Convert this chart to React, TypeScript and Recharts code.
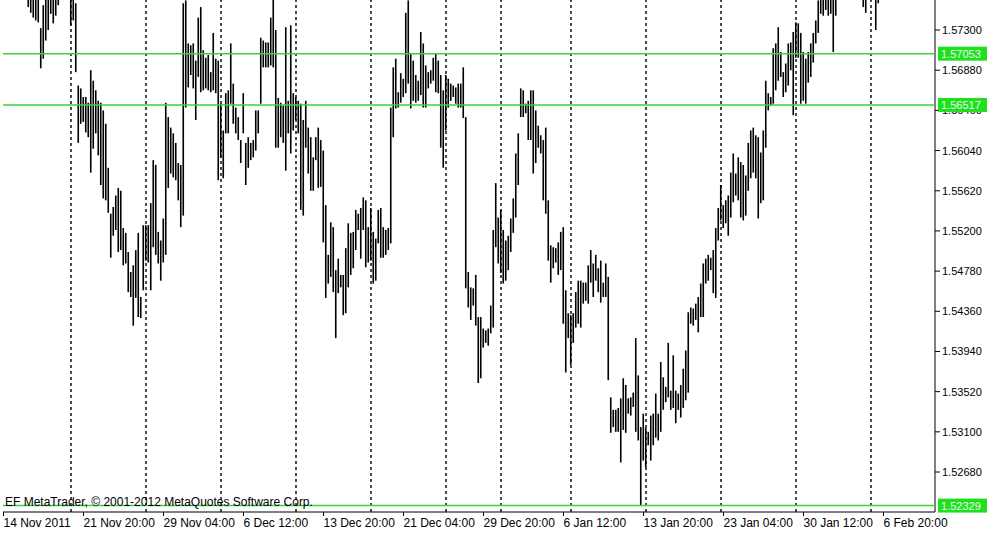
import { Bar, ComposedChart, ReferenceLine, XAxis, YAxis } from "recharts";

// GBPUSD H4 bars, 14 Nov 2011 12:00 onwards (bar index = position on the time axis)
const highs = [
  1.5802, 1.5798, 1.579, 1.5795, 1.5788, 1.5785, 1.5792, 1.5786, 1.5789, 1.5784,
  1.5782, 1.5777, 1.5771, 1.5769, 1.5766, 1.5732, 1.5756, 1.5766, 1.5771, 1.5774,
  1.5769, 1.5777, 1.5782, 1.5787, 1.5792, 1.5792, 1.5787, 1.5771, 1.5766, 1.5758,
  1.5672, 1.5669, 1.566, 1.566, 1.5654, 1.5688, 1.5677, 1.5667, 1.5656, 1.5654,
  1.5646, 1.5632, 1.5586, 1.5538, 1.5545, 1.5557, 1.5565, 1.5562, 1.5523, 1.5518,
  1.5498, 1.5477, 1.5484, 1.55, 1.5518, 1.5451, 1.5526, 1.5526, 1.5526, 1.5549,
  1.5594, 1.5589, 1.5519, 1.551, 1.5533, 1.5654, 1.5639, 1.5628, 1.5622, 1.5612,
  1.5591, 1.5589, 1.5758, 1.5761, 1.5716, 1.5714, 1.5716, 1.5698, 1.5743, 1.5754,
  1.5709, 1.5701, 1.5704, 1.5686, 1.5727, 1.57, 1.5698, 1.5653, 1.5625, 1.5664,
  1.5667, 1.5716, 1.5674, 1.5649, 1.5639, 1.5615, 1.5664, 1.5612, 1.5618, 1.5612,
  1.5615, 1.5646, 1.5646, 1.5722, 1.5719, 1.5717, 1.5717, 1.5743, 1.5764, 1.573,
  1.5659, 1.5654, 1.5651, 1.5733, 1.5656, 1.5735, 1.5664, 1.566, 1.5656, 1.5653,
  1.5636, 1.5656, 1.5628, 1.5618, 1.5597, 1.5618, 1.5628, 1.5615, 1.5604, 1.5547,
  1.5495, 1.5529, 1.5524, 1.5479, 1.5491, 1.5474, 1.5474, 1.5502, 1.5528, 1.5518,
  1.5519, 1.5542, 1.5538, 1.5544, 1.5555, 1.5552, 1.5524, 1.5544, 1.5519, 1.5512,
  1.5542, 1.5544, 1.5524, 1.5521, 1.5523, 1.5649, 1.5691, 1.57, 1.5665, 1.5685,
  1.5679, 1.5748, 1.5761, 1.5706, 1.5698, 1.5683, 1.5677, 1.5728, 1.5716, 1.5693,
  1.5686, 1.5688, 1.5701, 1.5706, 1.5698, 1.5683, 1.5667, 1.5683, 1.5679, 1.5674,
  1.5672, 1.567, 1.5674, 1.5674, 1.5691, 1.5639, 1.5477, 1.5461, 1.546, 1.5474,
  1.543, 1.543, 1.5418, 1.5416, 1.5418, 1.5442, 1.5521, 1.557, 1.5534, 1.5542,
  1.5521, 1.551, 1.5515, 1.5533, 1.5554, 1.5601, 1.5622, 1.5669, 1.5667, 1.5653,
  1.5656, 1.5667, 1.5667, 1.5646, 1.563, 1.562, 1.5615, 1.5628, 1.5552, 1.5505,
  1.5503, 1.5502, 1.5508, 1.5519, 1.5524, 1.5458, 1.5434, 1.5432, 1.5434, 1.5456,
  1.5468, 1.5468, 1.5466, 1.5466, 1.5484, 1.55, 1.5486, 1.5495, 1.5481, 1.5489,
  1.5466, 1.5486, 1.5472, 1.5346, 1.5333, 1.5333, 1.5335, 1.5345, 1.5366, 1.5359,
  1.5345, 1.5346, 1.5351, 1.5408, 1.5369, 1.5315, 1.5329, 1.5314, 1.531, 1.5327,
  1.5329, 1.535, 1.5329, 1.5383, 1.5367, 1.5357, 1.5403, 1.5353, 1.539, 1.5353,
  1.535, 1.5359, 1.5376, 1.5395, 1.5435, 1.544, 1.5439, 1.5444, 1.5451, 1.5465,
  1.5486, 1.5491, 1.5495, 1.5492, 1.55, 1.5523, 1.5544, 1.5568, 1.5547, 1.5552,
  1.5557, 1.5581, 1.5601, 1.558, 1.5597, 1.5592, 1.5589, 1.5578, 1.5612, 1.5625,
  1.5628, 1.562, 1.5618, 1.5602, 1.5625, 1.5677, 1.5664, 1.566, 1.5711, 1.5716,
  1.5733, 1.5707, 1.5686, 1.5695, 1.5716, 1.5717, 1.5728, 1.5738, 1.5737, 1.5727,
  1.5707, 1.57, 1.5707, 1.5716, 1.5727, 1.574, 1.5761, 1.5766, 1.5769, 1.5771,
  1.5766, 1.5769, 1.5764, 1.5771, 1.5787, 1.5792, 1.5798, 1.5805, 1.5801, 1.5796,
  1.5803, 1.5799, 1.5794, 1.579, 1.5777, 1.5771, 1.5782, 1.5787, 1.5782, 1.5771,
  1.5766,
];

const lows = [
  1.5775, 1.577, 1.5768, 1.5772, 1.5766, 1.5764, 1.577, 1.5767, 1.5765, 1.5763,
  1.5754, 1.5748, 1.5743, 1.574, 1.5738, 1.569, 1.57, 1.5719, 1.573, 1.5747,
  1.5737, 1.5745, 1.5756, 1.5764, 1.5766, 1.5769, 1.5763, 1.5735, 1.574, 1.5686,
  1.5612, 1.5632, 1.5634, 1.5623, 1.5618, 1.5581, 1.5606, 1.5622, 1.5599, 1.5568,
  1.5554, 1.5552, 1.5539, 1.5492, 1.5515, 1.5521, 1.5498, 1.55, 1.5484, 1.5486,
  1.5456, 1.5451, 1.5421, 1.545, 1.543, 1.5429, 1.5458, 1.5489, 1.5487, 1.5458,
  1.5503, 1.5495, 1.5486, 1.5468, 1.5487, 1.5495, 1.5565, 1.558, 1.5576, 1.5573,
  1.5552, 1.5524, 1.5536, 1.5649, 1.567, 1.5683, 1.5669, 1.5636, 1.5681, 1.5665,
  1.5667, 1.5669, 1.5667, 1.5665, 1.5667, 1.5664, 1.5573, 1.5597, 1.5575, 1.5622,
  1.5622, 1.5653, 1.5632, 1.5622, 1.5615, 1.5591, 1.5622, 1.5568, 1.5586, 1.5594,
  1.5597, 1.5604, 1.5622, 1.5653, 1.5691, 1.5691, 1.5691, 1.5693, 1.5691, 1.5607,
  1.5607, 1.5618, 1.5612, 1.5583, 1.5622, 1.5601, 1.5625, 1.5636, 1.5622, 1.5542,
  1.5536, 1.5607, 1.558, 1.5562, 1.5562, 1.5594, 1.5565, 1.5566, 1.5508, 1.545,
  1.5465, 1.5472, 1.5456, 1.5408, 1.5455, 1.5461, 1.5432, 1.5434, 1.5461, 1.5474,
  1.5481, 1.55, 1.5521, 1.5491, 1.5521, 1.5482, 1.5487, 1.5489, 1.5465, 1.5468,
  1.5507, 1.5492, 1.5492, 1.5495, 1.55, 1.5507, 1.5618, 1.5648, 1.5649, 1.5654,
  1.566, 1.5664, 1.5674, 1.5648, 1.5656, 1.5654, 1.5656, 1.5662, 1.5649, 1.5649,
  1.5669, 1.5674, 1.5677, 1.5665, 1.5664, 1.5607, 1.5586, 1.5625, 1.5649, 1.5656,
  1.566, 1.5653, 1.5649, 1.5649, 1.5638, 1.546, 1.544, 1.5427, 1.5442, 1.5421,
  1.5361, 1.5366, 1.5398, 1.5403, 1.54, 1.5413, 1.5419, 1.5503, 1.5486, 1.5476,
  1.5465, 1.5468, 1.5479, 1.5498, 1.5518, 1.5534, 1.5568, 1.5639, 1.5639, 1.5643,
  1.5615, 1.5615, 1.558, 1.5591, 1.5607, 1.5601, 1.5552, 1.5538, 1.5489, 1.5466,
  1.5481, 1.5487, 1.5474, 1.5479, 1.5423, 1.5372, 1.5408, 1.538, 1.5403, 1.5419,
  1.5423, 1.5419, 1.5444, 1.5447, 1.5444, 1.5466, 1.5451, 1.5468, 1.5456, 1.5445,
  1.5451, 1.5451, 1.5364, 1.5309, 1.5315, 1.531, 1.531, 1.5278, 1.5312, 1.5309,
  1.5329, 1.5327, 1.5336, 1.531, 1.5301, 1.5233, 1.528, 1.5273, 1.5296, 1.528,
  1.5296, 1.5304, 1.5301, 1.531, 1.5333, 1.5341, 1.5346, 1.5333, 1.5335, 1.5319,
  1.5333, 1.5325, 1.5335, 1.5343, 1.5351, 1.5423, 1.5421, 1.5427, 1.5414, 1.543,
  1.543, 1.5465, 1.5468, 1.5479, 1.5455, 1.545, 1.551, 1.5531, 1.5523, 1.5528,
  1.5515, 1.5534, 1.555, 1.5557, 1.5552, 1.5534, 1.5531, 1.5536, 1.5562, 1.5575,
  1.5581, 1.5575, 1.5533, 1.5549, 1.5552, 1.5607, 1.5646, 1.5651, 1.5653, 1.5667,
  1.5677, 1.5681, 1.566, 1.5665, 1.5672, 1.5688, 1.5641, 1.5701, 1.5701, 1.5653,
  1.5656, 1.5653, 1.5675, 1.5681, 1.5696, 1.5716, 1.5727, 1.5747, 1.5745, 1.5751,
  1.5745, 1.5747, 1.5707, 1.5745, 1.5764, 1.5766, 1.577, 1.5776, 1.5772, 1.5768,
  1.5774, 1.5771, 1.5767, 1.5764, 1.5754, 1.5748, 1.5763, 1.5766, 1.5764, 1.573,
  1.5758,
];

// bar index where each new week starts (period separators)
const weekStarts = [27, 57, 87, 117, 147, 177, 199, 227, 257, 287, 317, 347];

const timeTicks = [0, 32, 64, 96, 128, 160, 192, 224, 256, 288, 320, 352];
const timeLabels = [
  "14 Nov 2011",
  "21 Nov 20:00",
  "29 Nov 04:00",
  "6 Dec 12:00",
  "13 Dec 20:00",
  "21 Dec 04:00",
  "29 Dec 20:00",
  "6 Jan 12:00",
  "13 Jan 20:00",
  "23 Jan 04:00",
  "30 Jan 12:00",
  "6 Feb 20:00",
];

const priceTicks = [
  1.5268, 1.531, 1.5352, 1.5394, 1.5436, 1.5478, 1.552, 1.5562, 1.5604, 1.5646, 1.5688, 1.573,
];

// horizontal line objects drawn on the chart
const levels = [1.57053, 1.56517, 1.52329];

const data = highs.map((h, i) => ({ i, range: [lows[i], h] }));

const FONT = "'Liberation Sans', Arial, sans-serif";
const PRICE_DOMAIN: [number, number] = [1.52262, 1.57614];
const TIME_DOMAIN: [number, number] = [-0.2, 372.6];

function Stick(props: any) {
  const { x, y, width, height } = props;
  if (x == null || y == null) return null;
  const cx = x + width / 2;
  const top = Math.min(y, y + height);
  const h = Math.max(Math.abs(height), 1);
  return <rect x={cx - 0.8} y={top} width={1.6} height={h} fill="#000" />;
}

function TimeTick({ x, y, payload }: any) {
  const idx = timeTicks.indexOf(payload.value);
  return (
    <text x={x} y={y} dy={9} textAnchor="start" fontSize={12} fontFamily={FONT} fill="#000">
      {timeLabels[idx]}
    </text>
  );
}

function PriceTick({ x, y, payload }: any) {
  return (
    <text x={x} y={y} dy={4} textAnchor="start" fontSize={11} fontFamily={FONT} fill="#000">
      {payload.value.toFixed(5)}
    </text>
  );
}

function levelTag(value: number) {
  return (props: any) => {
    const vb = props.viewBox || {};
    const left = vb.x + vb.width + 3;
    const yy = vb.y;
    return (
      <g>
        <rect x={left} y={yy - 7} width={49} height={14} fill="#1fe01f" />
        <text x={left + 3} y={yy + 4} fontSize={11} fontFamily={FONT} fill="#eaffea">
          {value.toFixed(5)}
        </text>
      </g>
    );
  };
}

export default function App() {
  return (
    <div style={{ position: "absolute", left: 0, top: 0, width: 1001, height: 538, background: "#fff" }}>
      <ComposedChart
        width={1001}
        height={538}
        data={data}
        margin={{ top: 0, right: 0, left: 3, bottom: 0 }}
      >
        <XAxis
          dataKey="i"
          type="number"
          domain={TIME_DOMAIN}
          allowDataOverflow
          ticks={timeTicks}
          tick={<TimeTick />}
          tickSize={4}
          tickMargin={2}
          height={26}
          interval={0}
          axisLine={{ stroke: "#000" }}
          tickLine={{ stroke: "#000" }}
        />
        <YAxis
          yAxisId="frame"
          orientation="left"
          width={0}
          domain={PRICE_DOMAIN}
          allowDataOverflow
          tick={false}
          tickLine={false}
          axisLine={{ stroke: "#000" }}
        />
        <YAxis
          yAxisId="price"
          orientation="right"
          type="number"
          domain={PRICE_DOMAIN}
          allowDataOverflow
          ticks={priceTicks}
          interval={0}
          tick={<PriceTick />}
          tickSize={5}
          tickMargin={2}
          width={66}
          axisLine={{ stroke: "#000" }}
          tickLine={{ stroke: "#000" }}
        />
        {weekStarts.map((w) => (
          <ReferenceLine
            key={`w${w}`}
            x={w}
            yAxisId="price"
            stroke="#000"
            strokeDasharray="3 3"
            strokeWidth={1.4}
          />
        ))}
        <Bar
          yAxisId="price"
          dataKey="range"
          barSize={2}
          shape={<Stick />}
          isAnimationActive={false}
        />
      </ComposedChart>

      {/* price-line objects sit above the axis labels, like in the terminal */}
      <div style={{ position: "absolute", left: 0, top: 0 }}>
        <ComposedChart
          width={1001}
          height={538}
          data={data}
          margin={{ top: 0, right: 66, left: 3, bottom: 26 }}
        >
          <XAxis dataKey="i" type="number" domain={TIME_DOMAIN} allowDataOverflow hide />
          <YAxis yAxisId="price" type="number" domain={PRICE_DOMAIN} allowDataOverflow hide />
          {levels.map((lv) => (
            <ReferenceLine
              key={`l${lv}`}
              y={lv}
              yAxisId="price"
              stroke="#3fcf3f"
              strokeWidth={1.5}
              label={levelTag(lv)}
            />
          ))}
        </ComposedChart>
      </div>

      <div
        style={{
          position: "absolute",
          left: 5,
          top: 495,
          fontFamily: FONT,
          fontSize: 12,
          color: "#000",
          whiteSpace: "nowrap",
        }}
      >
        EF MetaTrader, © 2001-2012 MetaQuotes Software Corp.
      </div>
    </div>
  );
}
